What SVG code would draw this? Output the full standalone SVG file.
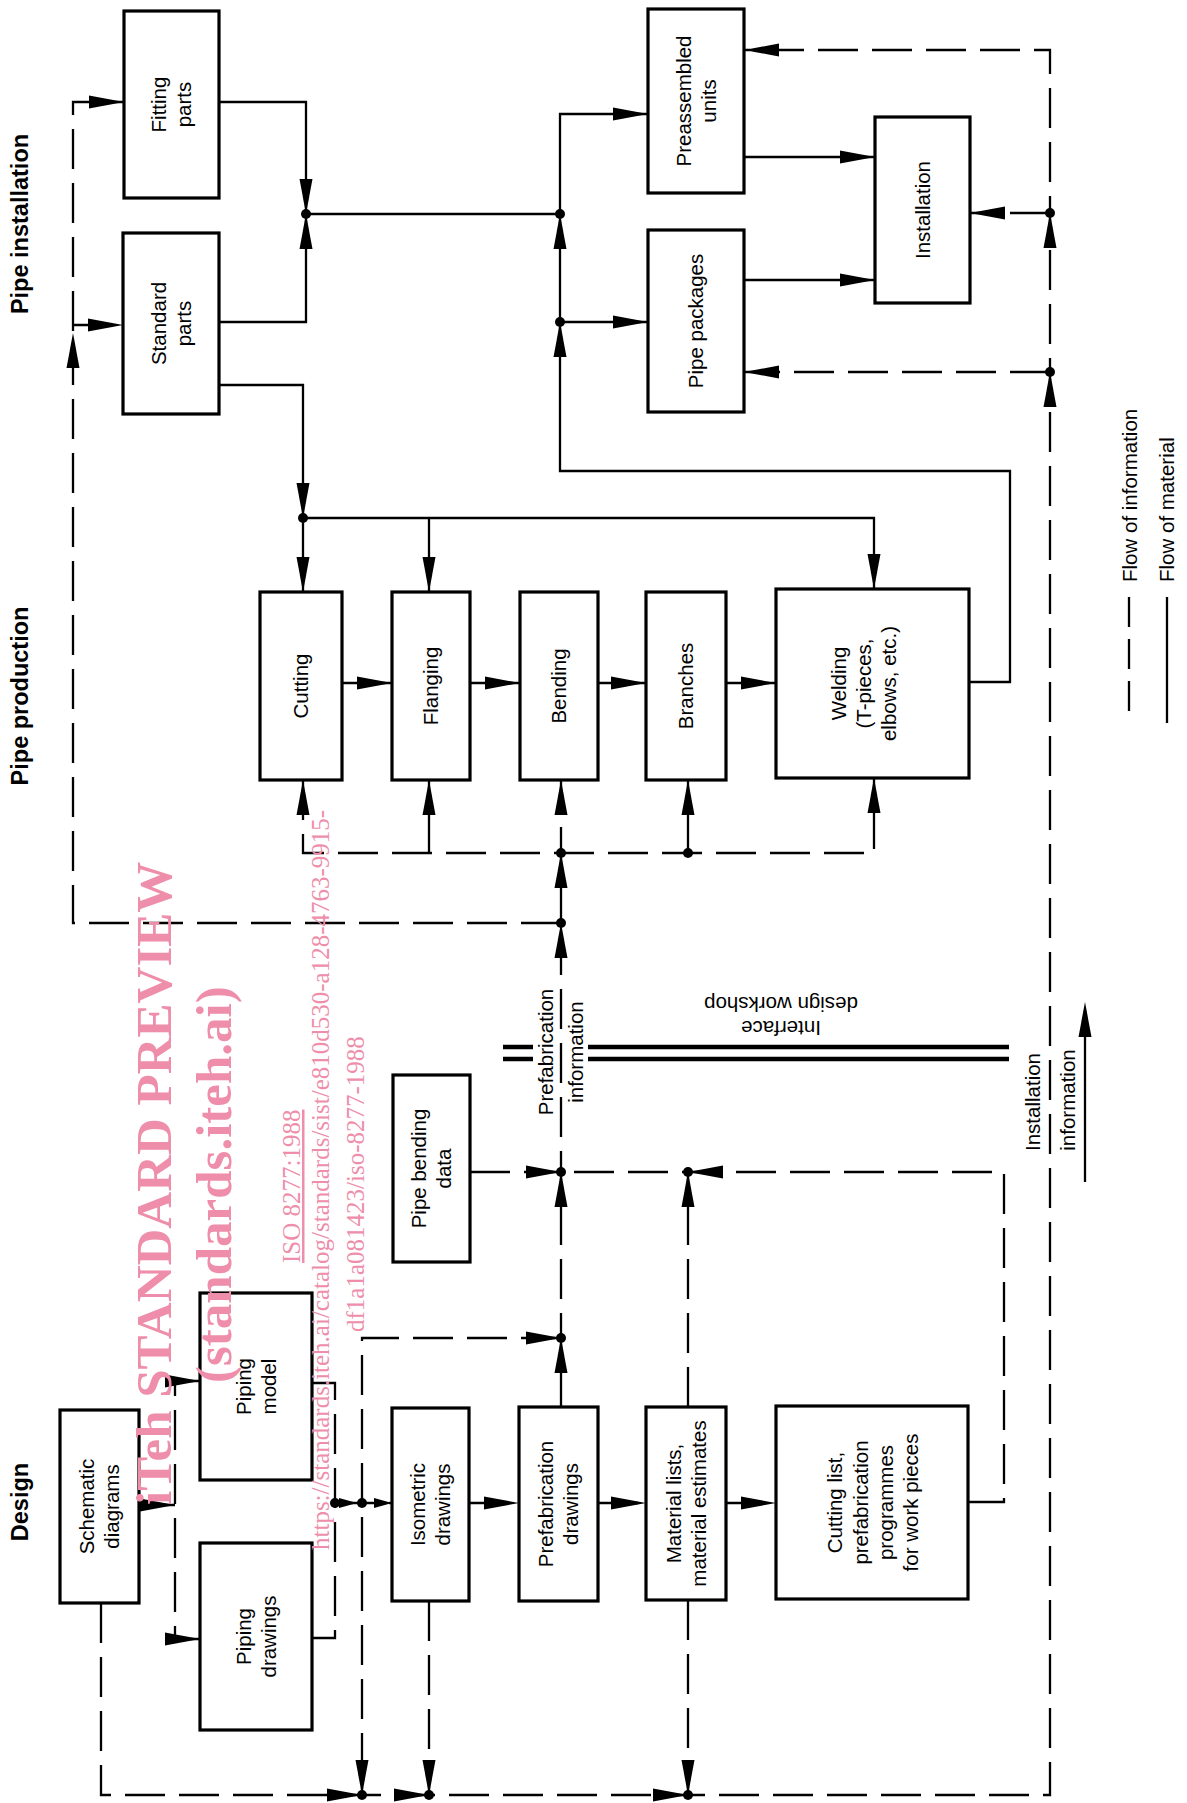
<svg xmlns="http://www.w3.org/2000/svg" width="1187" height="1803" viewBox="0 0 1187 1803">
<style>
.box{fill:#fff;stroke:#000;stroke-width:3.2}
.lbl{font-family:"Liberation Sans",Arial,sans-serif;font-size:20.5px;fill:#000;text-anchor:middle}
.sec{font-family:"Liberation Sans",Arial,sans-serif;font-size:23.5px;font-weight:bold;fill:#000;text-anchor:middle}
.mat{fill:none;stroke:#000;stroke-width:2.3}
.inf{fill:none;stroke:#000;stroke-width:2.3;stroke-dasharray:40 14}
.ah{fill:none;stroke:none;marker-end:url(#arr)}
.ahs{fill:none;stroke:none;marker-end:url(#arrs)}
.dot{fill:#000}
.wm{font-family:"Liberation Serif","Times New Roman",serif;fill:#ee8eab}
.bar{stroke:#000;stroke-width:4.5}
</style>
<defs>
<marker id="arr" markerUnits="userSpaceOnUse" markerWidth="38" markerHeight="16" refX="35" refY="6.5" orient="auto" overflow="visible"><path d="M0,0 L35,6.5 L0,13 z" fill="#000"/></marker>
<marker id="arrs" markerUnits="userSpaceOnUse" markerWidth="20" markerHeight="12" refX="18" refY="5" orient="auto" overflow="visible"><path d="M0,0 L18,5 L0,10 z" fill="#000"/></marker>
</defs>
<rect width="1187" height="1803" fill="#fff"/>

<g id="section-labels">
<text class="sec" transform="translate(28,224) rotate(-90)">Pipe installation</text>
<text class="sec" transform="translate(28,696) rotate(-90)">Pipe production</text>
<text class="sec" transform="translate(28,1502) rotate(-90)">Design</text>
</g>

<g id="connectors">
<!-- material flow -->
<path class="mat" d="M219,102 H306 V214"/>
<path class="mat" d="M219,322 H306 V214"/>
<path class="mat" d="M306,214 H560"/>
<path class="mat" d="M219,385 H303 V592"/>
<path class="mat" d="M303,518 H874 V589"/>
<path class="mat" d="M429,518 V592"/>
<path class="mat" d="M342,683 H392 M470,683 H520 M598,683 H646 M726,683 H776"/>
<path class="mat" d="M969,682 H1010 V471 H560 V114 H648"/>
<path class="mat" d="M560,322 H648"/>
<path class="mat" d="M744,157 H875 M744,280 H875"/>
<!-- information flow -->
<path class="inf" d="M101,1603 V1795 H1050 V50 H744"/>
<path class="inf" d="M1050,213 H970"/>
<path class="inf" d="M1050,372 H744"/>
<path class="inf" d="M561,1407 V780"/>
<path class="inf" d="M303,780 V853 H874 V778"/>
<path class="inf" d="M429,853 V780 M688,853 V780"/>
<path class="inf" d="M561,923 H73 V102 H124"/>
<path class="inf" d="M73,325 H123"/>
<path class="inf" d="M470,1172 H561"/>
<path class="inf" d="M968,1502 H1004 V1172 H561"/>
<path class="inf" d="M688,1407 V1172"/>
<path class="inf" d="M561,1338 H362 V1795"/>
<path class="inf" d="M139,1505 H175"/>
<path class="inf" d="M200,1381 H175 V1639 H200"/>
<path class="inf" d="M312,1383 H335 V1638 H312"/>
<path class="inf" d="M335,1503 H392"/>
<path class="inf" d="M469,1503 H519 M598,1503 H646 M726,1503 H776"/>
<path class="inf" d="M429,1601 V1795 M688,1600 V1795"/>
<!-- arrowheads: material -->
<path class="ah" d="M306,200 L306,214"/>
<path class="ah" d="M306,228 L306,214"/>
<path class="ah" d="M303,504 L303,518"/>
<path class="ah" d="M303,578 L303,592"/>
<path class="ah" d="M429,578 L429,592"/>
<path class="ah" d="M874,575 L874,589"/>
<path class="ah" d="M380,683 L392,683"/>
<path class="ah" d="M508,683 L520,683"/>
<path class="ah" d="M634,683 L646,683"/>
<path class="ah" d="M764,683 L776,683"/>
<path class="ah" d="M560,336 L560,322"/>
<path class="ah" d="M560,228 L560,214"/>
<path class="ah" d="M636,114 L648,114"/>
<path class="ah" d="M636,322 L648,322"/>
<path class="ah" d="M863,157 L875,157"/>
<path class="ah" d="M863,280 L875,280"/>
<!-- arrowheads: information -->
<path class="ah" d="M756,50 L744,50"/>
<path class="ah" d="M982,213 L970,213"/>
<path class="ah" d="M1050,227 L1050,213"/>
<path class="ah" d="M756,372 L744,372"/>
<path class="ah" d="M1050,386 L1050,372"/>
<path class="ah" d="M112,102 L124,102"/>
<path class="ah" d="M111,325 L123,325"/>
<path class="ah" d="M73,347 L73,333"/>
<path class="ah" d="M561,937 L561,923"/>
<path class="ah" d="M561,867 L561,853"/>
<path class="ah" d="M561,794 L561,780"/>
<path class="ah" d="M303,794 L303,780"/>
<path class="ah" d="M429,794 L429,780"/>
<path class="ah" d="M688,794 L688,780"/>
<path class="ah" d="M874,792 L874,778"/>
<path class="ah" d="M549,1172 L561,1172"/>
<path class="ah" d="M561,1186 L561,1172"/>
<path class="ah" d="M700,1172 L688,1172"/>
<path class="ah" d="M688,1186 L688,1172"/>
<path class="ah" d="M549,1338 L561,1338"/>
<path class="ah" d="M561,1352 L561,1338"/>
<path class="ah" d="M362,1781 L362,1795"/>
<path class="ah" d="M350,1795 L362,1795"/>
<path class="ah" d="M417,1795 L429,1795"/>
<path class="ah" d="M429,1781 L429,1795"/>
<path class="ah" d="M676,1795 L688,1795"/>
<path class="ah" d="M688,1781 L688,1795"/>
<path class="ah" d="M163,1505 L175,1505"/>
<path class="ah" d="M188,1381 L200,1381"/>
<path class="ah" d="M188,1639 L200,1639"/>
<path class="ah" d="M507,1503 L519,1503"/>
<path class="ah" d="M634,1503 L646,1503"/>
<path class="ah" d="M764,1503 L776,1503"/>
<path class="ahs" d="M347,1503 L357,1503"/>
<path class="ahs" d="M382,1503 L392,1503"/>
<!-- junction dots -->
<circle class="dot" cx="306" cy="214" r="5"/>
<circle class="dot" cx="560" cy="214" r="5"/>
<circle class="dot" cx="560" cy="322" r="5"/>
<circle class="dot" cx="1050" cy="213" r="5"/>
<circle class="dot" cx="1050" cy="372" r="5"/>
<circle class="dot" cx="303" cy="518" r="5"/>
<circle class="dot" cx="561" cy="853" r="5"/>
<circle class="dot" cx="688" cy="853" r="5"/>
<circle class="dot" cx="561" cy="923" r="5"/>
<circle class="dot" cx="561" cy="1172" r="5"/>
<circle class="dot" cx="688" cy="1172" r="5"/>
<circle class="dot" cx="561" cy="1338" r="5"/>
<circle class="dot" cx="335" cy="1503" r="5"/>
<circle class="dot" cx="362" cy="1503" r="5"/>
<circle class="dot" cx="362" cy="1795" r="5"/>
<circle class="dot" cx="429" cy="1795" r="5"/>
<circle class="dot" cx="688" cy="1795" r="5"/>
<!-- installation information arrow -->
<path class="mat" d="M1085,1182 V1010" stroke-width="2"/>
<path class="ah" d="M1085,1016 L1085,1002"/>
</g>

<g id="interface">
<path class="bar" d="M503,1047 H533 M503,1059 H533 M588,1047 H1009 M588,1059 H1009"/>
<text class="lbl" transform="translate(781,1021) rotate(180)">Interface</text>
<text class="lbl" transform="translate(781,997) rotate(180)">design workshop</text>
<text class="lbl" transform="translate(553,1052) rotate(-90)">Prefabrication</text>
<text class="lbl" transform="translate(583,1052) rotate(-90)">information</text>
<text class="lbl" transform="translate(1040,1102) rotate(-90)">Installation</text>
<text class="lbl" transform="translate(1075,1100) rotate(-90)">information</text>
</g>

<g id="n-fitting"><rect class="box" x="124" y="11" width="95" height="187"/>
<text class="lbl" transform="translate(171.5,104.5) rotate(-90)"><tspan x="0" y="-5.5">Fitting</tspan><tspan x="0" y="19.5">parts</tspan></text></g>
<g id="n-standard"><rect class="box" x="123" y="233" width="96" height="181"/>
<text class="lbl" transform="translate(171,323.5) rotate(-90)"><tspan x="0" y="-5.5">Standard</tspan><tspan x="0" y="19.5">parts</tspan></text></g>
<g id="n-preassembled"><rect class="box" x="648" y="9" width="96" height="184"/>
<text class="lbl" transform="translate(696,101) rotate(-90)"><tspan x="0" y="-5.5">Preassembled</tspan><tspan x="0" y="19.5">units</tspan></text></g>
<g id="n-packages"><rect class="box" x="648" y="230" width="96" height="182"/>
<text class="lbl" transform="translate(696,321) rotate(-90)" y="7">Pipe packages</text></g>
<g id="n-installation"><rect class="box" x="875" y="117" width="95" height="186"/>
<text class="lbl" transform="translate(922.5,210) rotate(-90)" y="7">Installation</text></g>
<g id="n-cutting"><rect class="box" x="260" y="592" width="82" height="188"/>
<text class="lbl" transform="translate(301,686) rotate(-90)" y="7">Cutting</text></g>
<g id="n-flanging"><rect class="box" x="392" y="592" width="78" height="188"/>
<text class="lbl" transform="translate(431,686) rotate(-90)" y="7">Flanging</text></g>
<g id="n-bending"><rect class="box" x="520" y="592" width="78" height="188"/>
<text class="lbl" transform="translate(559,686) rotate(-90)" y="7">Bending</text></g>
<g id="n-branches"><rect class="box" x="646" y="592" width="80" height="188"/>
<text class="lbl" transform="translate(686,686) rotate(-90)" y="7">Branches</text></g>
<g id="n-welding"><rect class="box" x="776" y="589" width="193" height="189"/>
<text class="lbl" transform="translate(864,683.5) rotate(-90)"><tspan x="0" y="-18">Welding</tspan><tspan x="0" y="7">(T-pieces,</tspan><tspan x="0" y="32">elbows, etc.)</tspan></text></g>
<g id="n-bendingdata"><rect class="box" x="393" y="1075" width="77" height="187"/>
<text class="lbl" transform="translate(431.5,1168.5) rotate(-90)"><tspan x="0" y="-5.5">Pipe bending</tspan><tspan x="0" y="19.5">data</tspan></text></g>
<g id="n-pipingmodel"><rect class="box" x="200" y="1293" width="112" height="187"/>
<text class="lbl" transform="translate(256,1386.5) rotate(-90)"><tspan x="0" y="-5.5">Piping</tspan><tspan x="0" y="19.5">model</tspan></text></g>
<g id="n-schematic"><rect class="box" x="60" y="1410" width="79" height="193"/>
<text class="lbl" transform="translate(99.5,1506.5) rotate(-90)"><tspan x="0" y="-5.5">Schematic</tspan><tspan x="0" y="19.5">diagrams</tspan></text></g>
<g id="n-pipingdrawings"><rect class="box" x="200" y="1543" width="112" height="187"/>
<text class="lbl" transform="translate(256,1636.5) rotate(-90)"><tspan x="0" y="-5.5">Piping</tspan><tspan x="0" y="19.5">drawings</tspan></text></g>
<g id="n-isometric"><rect class="box" x="392" y="1408" width="77" height="193"/>
<text class="lbl" transform="translate(430.5,1504.5) rotate(-90)"><tspan x="0" y="-5.5">Isometric</tspan><tspan x="0" y="19.5">drawings</tspan></text></g>
<g id="n-prefab"><rect class="box" x="519" y="1407" width="79" height="194"/>
<text class="lbl" transform="translate(558.5,1504) rotate(-90)"><tspan x="0" y="-5.5">Prefabrication</tspan><tspan x="0" y="19.5">drawings</tspan></text></g>
<g id="n-material"><rect class="box" x="646" y="1407" width="80" height="193"/>
<text class="lbl" transform="translate(686,1503.5) rotate(-90)"><tspan x="0" y="-5.5">Material lists,</tspan><tspan x="0" y="19.5">material estimates</tspan></text></g>
<g id="n-cuttinglist"><rect class="box" x="776" y="1406" width="192" height="193"/>
<text class="lbl" transform="translate(873,1502.5) rotate(-90)"><tspan x="0" y="-31">Cutting list,</tspan><tspan x="0" y="-5.5">prefabrication</tspan><tspan x="0" y="19.5">programmes</tspan><tspan x="0" y="45">for work pieces</tspan></text></g>

<g id="legend">
<path class="inf" d="M1129,597 V723" style="stroke-dasharray:30 12"/>
<path class="mat" d="M1167,597 V723"/>
<text class="lbl" style="text-anchor:start" transform="translate(1137,582) rotate(-90)">Flow of information</text>
<text class="lbl" style="text-anchor:start" transform="translate(1174,582) rotate(-90)">Flow of material</text>
</g>

<g id="watermark">
<text class="wm" font-weight="bold" font-size="51" transform="translate(171,1505) rotate(-90)">iTeh STANDARD PREVIEW</text>
<text class="wm" font-weight="bold" font-size="51" transform="translate(231,1383) rotate(-90)">(standards.iteh.ai)</text>
<text class="wm" font-size="25" text-decoration="underline" transform="translate(300,1263) rotate(-90)">ISO 8277:1988</text>
<text class="wm" font-size="25" transform="translate(329,1550) rotate(-90)">https://standards.iteh.ai/catalog/standards/sist/e810d530-a128-4763-9915-</text>
<text class="wm" font-size="25" transform="translate(364,1332) rotate(-90)">df1a1a081423/iso-8277-1988</text>
</g>
</svg>
